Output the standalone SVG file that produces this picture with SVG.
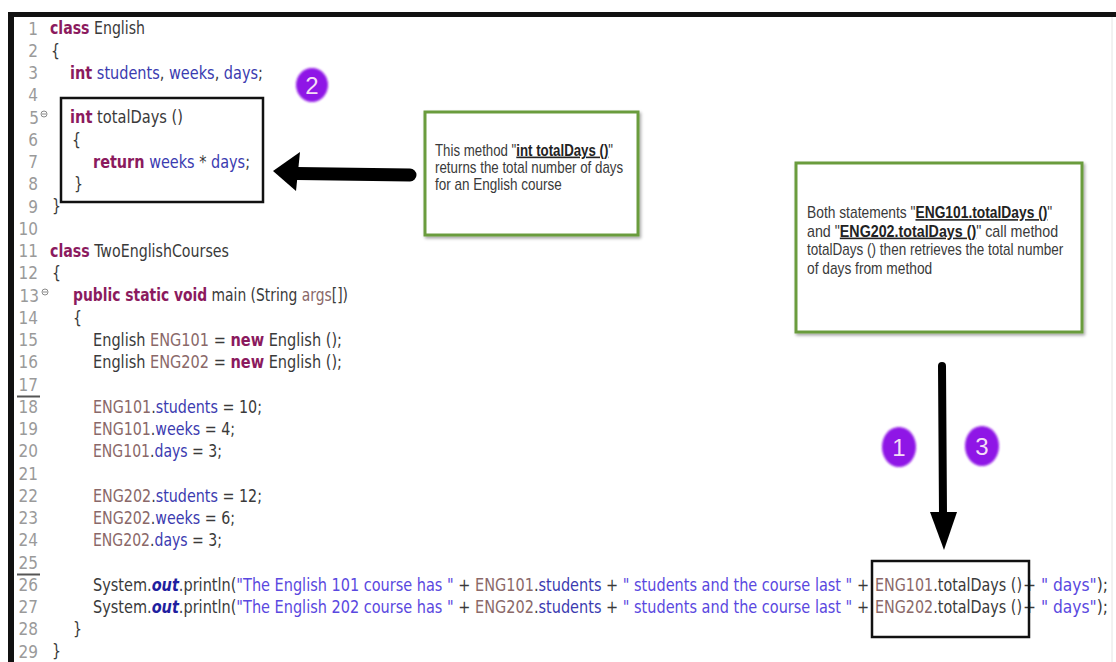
<svg xmlns="http://www.w3.org/2000/svg" width="1116" height="662" viewBox="0 0 1116 662">
  <style>
    .code { font-family: "DejaVu Sans Condensed", "DejaVu Sans", sans-serif; font-size: 18px; fill: #3a3a3a; }
    .ln { font-family: "DejaVu Sans Condensed", "DejaVu Sans", sans-serif; font-size: 17px; fill: #9a9a9a; text-anchor: end; }
    .kw { fill: #8b1a5e; font-weight: bold; }
    .fd { fill: #3b3bb0; }
    .st { fill: #5a48e0; }
    .lv { fill: #8a6868; }
    .out { fill: #1f1fa0; font-weight: bold; font-style: italic; }
    .note { fill: #ffffff; stroke: #6b9c3e; stroke-width: 3; }
    .ntxt { font-family: "Liberation Sans", Arial, sans-serif; font-size: 16px; fill: #3a3a3a; }
    .nb { font-weight: bold; text-decoration: underline; fill: #222; }
    .hl { fill: none; stroke: #111; stroke-width: 2.5; }
    .badge { fill: #8f14e6; }
    .btxt { font-family: "Liberation Sans", sans-serif; font-size: 24px; fill: #f4dcf6; text-anchor: middle; }
    .sep { stroke: #555; stroke-width: 2; }
  </style>
  <defs>
    <filter id="shadow" x="-5%" y="-5%" width="112%" height="115%">
      <feDropShadow dx="1.5" dy="2" stdDeviation="1.5" flood-color="#000" flood-opacity="0.35"/>
    </filter>
    <filter id="soft" x="-20%" y="-20%" width="140%" height="140%">
      <feGaussianBlur stdDeviation="0.8"/>
    </filter>
  </defs>

  <rect width="1116" height="662" fill="#ffffff"/>

  <!-- editor frame -->
  <g id="frame">
    <rect x="8" y="12" width="1108" height="5" fill="#111"/>
    <rect x="8" y="12" width="6" height="650" fill="#111"/>
    <line x1="1112" y1="17" x2="1112" y2="662" stroke="#e4e4e4" stroke-width="1"/>
  </g>

  <!-- gutter line numbers -->
  <g id="gutter">
    <text class="ln" x="38" y="34.5">1</text>
    <text class="ln" x="38" y="56.75">2</text>
    <text class="ln" x="38" y="79">3</text>
    <text class="ln" x="38" y="101.25">4</text>
    <text class="ln" x="39" y="123.5">5</text>
    <text class="ln" x="38" y="145.75">6</text>
    <text class="ln" x="38" y="168">7</text>
    <text class="ln" x="38" y="190.25">8</text>
    <text class="ln" x="38" y="212.5">9</text>
    <text class="ln" x="38" y="234.75">10</text>
    <text class="ln" x="38" y="257">11</text>
    <text class="ln" x="38" y="279.25">12</text>
    <text class="ln" x="39" y="301.5">13</text>
    <text class="ln" x="38" y="323.75">14</text>
    <text class="ln" x="38" y="346">15</text>
    <text class="ln" x="38" y="368.25">16</text>
    <text class="ln" x="38" y="390.5">17</text>
    <text class="ln" x="38" y="412.75">18</text>
    <text class="ln" x="38" y="435">19</text>
    <text class="ln" x="38" y="457.25">20</text>
    <text class="ln" x="38" y="479.5">21</text>
    <text class="ln" x="38" y="501.75">22</text>
    <text class="ln" x="38" y="524">23</text>
    <text class="ln" x="38" y="546.25">24</text>
    <text class="ln" x="38" y="568.5">25</text>
    <text class="ln" x="38" y="590.75">26</text>
    <text class="ln" x="38" y="613">27</text>
    <text class="ln" x="38" y="635.25">28</text>
    <text class="ln" x="38" y="657.5">29</text>
    <!-- fold markers -->
    <g stroke="#8a8a8a" stroke-width="1" fill="none">
      <circle cx="44" cy="114" r="3"/>
      <line x1="42" y1="114" x2="46" y2="114"/>
      <circle cx="45" cy="292" r="3"/>
      <line x1="43" y1="292" x2="47" y2="292"/>
    </g>
    <line class="sep" x1="17" y1="396.5" x2="40" y2="396.5"/>
    <line class="sep" x1="17" y1="574.5" x2="40" y2="574.5"/>
  </g>

  <!-- source code, drawn narrow: every x is divided by the 0.87 squeeze -->
  <g id="code" transform="scale(0.87 1)">
    <text class="code" x="57.47" y="34.5" textLength="109.2" lengthAdjust="spacingAndGlyphs"><tspan class="kw">class</tspan> English</text>
    <text class="code" x="58.62" y="56.75">{</text>
    <text class="code" x="80.46" y="79" textLength="221.8" lengthAdjust="spacingAndGlyphs"><tspan class="kw">int</tspan> <tspan class="fd">students</tspan>, <tspan class="fd">weeks</tspan>, <tspan class="fd">days</tspan>;</text>
    <text class="code" x="80.46" y="123.5" textLength="129.9" lengthAdjust="spacingAndGlyphs"><tspan class="kw">int</tspan> totalDays ()</text>
    <text class="code" x="82.76" y="145.75">{</text>
    <text class="code" x="106.9" y="168" textLength="180.5" lengthAdjust="spacingAndGlyphs"><tspan class="kw">return</tspan> <tspan class="fd">weeks</tspan> * <tspan class="fd">days</tspan>;</text>
    <text class="code" x="85.06" y="190.25">}</text>
    <text class="code" x="59.77" y="212.5">}</text>
    <text class="code" x="57.47" y="257" textLength="205.7" lengthAdjust="spacingAndGlyphs"><tspan class="kw">class</tspan> TwoEnglishCourses</text>
    <text class="code" x="59.77" y="279.25">{</text>
    <text class="code" x="83.91" y="301.5" textLength="316.1" lengthAdjust="spacingAndGlyphs"><tspan class="kw">public static void</tspan> main (String <tspan class="lv">args</tspan>[])</text>
    <text class="code" x="83.91" y="323.75">{</text>
    <text class="code" x="106.9" y="346" textLength="286.2" lengthAdjust="spacingAndGlyphs">English <tspan class="lv">ENG101</tspan> = <tspan class="kw">new</tspan> English ();</text>
    <text class="code" x="106.9" y="368.25" textLength="286.2" lengthAdjust="spacingAndGlyphs">English <tspan class="lv">ENG202</tspan> = <tspan class="kw">new</tspan> English ();</text>
    <text class="code" x="106.9" y="412.75" textLength="194.3" lengthAdjust="spacingAndGlyphs"><tspan class="lv">ENG101</tspan>.<tspan class="fd">students</tspan> = 10;</text>
    <text class="code" x="106.9" y="435" textLength="163.2" lengthAdjust="spacingAndGlyphs"><tspan class="lv">ENG101</tspan>.<tspan class="fd">weeks</tspan> = 4;</text>
    <text class="code" x="106.9" y="457.25" textLength="148.3" lengthAdjust="spacingAndGlyphs"><tspan class="lv">ENG101</tspan>.<tspan class="fd">days</tspan> = 3;</text>
    <text class="code" x="106.9" y="501.75" textLength="194.3" lengthAdjust="spacingAndGlyphs"><tspan class="lv">ENG202</tspan>.<tspan class="fd">students</tspan> = 12;</text>
    <text class="code" x="106.9" y="524" textLength="163.2" lengthAdjust="spacingAndGlyphs"><tspan class="lv">ENG202</tspan>.<tspan class="fd">weeks</tspan> = 6;</text>
    <text class="code" x="106.9" y="546.25" textLength="148.3" lengthAdjust="spacingAndGlyphs"><tspan class="lv">ENG202</tspan>.<tspan class="fd">days</tspan> = 3;</text>
    <text class="code" x="106.9" y="590.75" textLength="892" lengthAdjust="spacingAndGlyphs">System.<tspan class="out">out</tspan>.println(<tspan class="st">"The English 101 course has "</tspan> + <tspan class="lv">ENG101</tspan>.<tspan class="fd">students</tspan> + <tspan class="st">" students and the course last "</tspan> +</text>
    <text class="code" x="1005.75" y="590.75" textLength="169" lengthAdjust="spacingAndGlyphs"><tspan class="lv">ENG101</tspan>.totalDays ()</text>
    <text class="code" x="1175.86" y="590.75" textLength="97.7" lengthAdjust="spacingAndGlyphs">+ <tspan class="st">" days"</tspan>);</text>
    <text class="code" x="106.9" y="613" textLength="892" lengthAdjust="spacingAndGlyphs">System.<tspan class="out">out</tspan>.println(<tspan class="st">"The English 202 course has "</tspan> + <tspan class="lv">ENG202</tspan>.<tspan class="fd">students</tspan> + <tspan class="st">" students and the course last "</tspan> +</text>
    <text class="code" x="1005.75" y="613" textLength="169" lengthAdjust="spacingAndGlyphs"><tspan class="lv">ENG202</tspan>.totalDays ()</text>
    <text class="code" x="1175.86" y="613" textLength="97.7" lengthAdjust="spacingAndGlyphs">+ <tspan class="st">" days"</tspan>);</text>
    <text class="code" x="83.91" y="635.25">}</text>
    <text class="code" x="59.77" y="657.5">}</text>
  </g>

  <!-- highlight around the method body -->
  <g id="method-box">
    <rect class="hl" x="61" y="98" width="202" height="104"/>
  </g>

  <!-- highlight around the two calls -->
  <g id="call-box">
    <rect class="hl" x="872" y="561" width="157" height="76"/>
  </g>

  <!-- explanatory notes, set in a narrowed sans -->
  <g id="note-method">
    <rect class="note" x="425" y="112" width="213" height="123" filter="url(#shadow)"/>
    <text class="ntxt" transform="translate(435 155.5) scale(0.84 1)" textLength="212" lengthAdjust="spacingAndGlyphs">This method "<tspan class="nb">int totalDays ()</tspan>"</text>
    <text class="ntxt" transform="translate(435 172.5) scale(0.84 1)" textLength="224" lengthAdjust="spacingAndGlyphs">returns the total number of days</text>
    <text class="ntxt" transform="translate(435 189.5) scale(0.84 1)" textLength="151" lengthAdjust="spacingAndGlyphs">for an English course</text>
  </g>

  <g id="note-calls">
    <rect class="note" x="796" y="163" width="286" height="169" filter="url(#shadow)"/>
    <text class="ntxt" transform="translate(807 218) scale(0.84 1)" textLength="292" lengthAdjust="spacingAndGlyphs">Both statements "<tspan class="nb">ENG101.totalDays ()</tspan>"</text>
    <text class="ntxt" transform="translate(807 236.5) scale(0.84 1)" textLength="299" lengthAdjust="spacingAndGlyphs">and "<tspan class="nb">ENG202.totalDays ()</tspan>" call method</text>
    <text class="ntxt" transform="translate(807 255) scale(0.84 1)" textLength="305" lengthAdjust="spacingAndGlyphs">totalDays () then retrieves the total number</text>
    <text class="ntxt" transform="translate(807 273.5) scale(0.84 1)" textLength="149" lengthAdjust="spacingAndGlyphs">of days from method</text>
  </g>

  <!-- step badges -->
  <g id="badge-2">
    <ellipse class="badge" cx="312" cy="85" rx="16" ry="17" filter="url(#soft)"/>
    <text class="btxt" x="312" y="93.5">2</text>
  </g>
  <g id="badge-1">
    <ellipse class="badge" cx="899" cy="447" rx="17" ry="20" filter="url(#soft)"/>
    <text class="btxt" x="899" y="456">1</text>
  </g>
  <g id="badge-3">
    <ellipse class="badge" cx="982" cy="446" rx="17" ry="20" filter="url(#soft)"/>
    <text class="btxt" x="982" y="455">3</text>
  </g>

  <!-- arrows -->
  <g id="connectors" fill="#000" stroke="none">
    <path d="M297 167 L410 168.5 A6.5 6.5 0 0 1 410 181.5 L297 180 Z"/>
    <path d="M273 171 L300 152 L296 191 Z"/>
    <path d="M938 366 A4 4 0 0 1 946 366 L947 514 L939 514 Z"/>
    <path d="M930 512 L957 512 L944 550 Z"/>
  </g>
</svg>
